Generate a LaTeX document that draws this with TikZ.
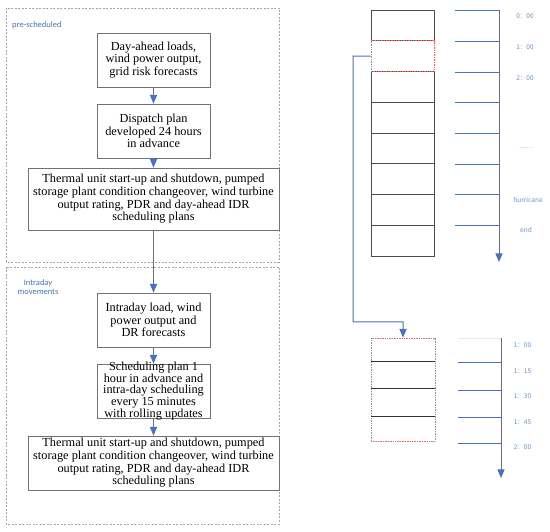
\documentclass[tikz,border=0pt]{standalone}
\usepackage{fontspec}
\setmainfont{Liberation Serif}
\newfontfamily\tagfont{Carlito}
\newfontfamily\cjk{Noto Sans CJK SC}
\usetikzlibrary{arrows}
\definecolor{planblue}{RGB}{68,114,196}
\definecolor{hotred}{RGB}{250,100,100}

\begin{document}
\begin{tikzpicture}[x=1pt,y=-1pt]
\tikzstyle{every node}=[inner sep=0pt]
\tikzstyle{planbox}=[draw=black!55, line width=0.8pt, minimum height=54pt, align=center, font=\fontsize{12.3}{12.7}\selectfont]
\tikzstyle{stagebox}=[draw=black!35, dash pattern=on 2pt off 1.5pt, line width=0.8pt]
\tikzstyle{flowarrow}=[draw=planblue, line width=1pt, -triangle 45]
\tikzstyle{tickline}=[draw=planblue, line width=0.9pt]
\tikzstyle{taglabel}=[text=planblue, font=\tagfont\fontsize{8.5}{8.5}\selectfont, align=center]
\tikzstyle{timelabel}=[text=planblue!80, font=\cjk\fontsize{6.5}{7}\selectfont]
\tikzstyle{slotbox}=[draw=black!70, line width=0.7pt, minimum width=63pt, minimum height=30.75pt]
\tikzstyle{hotslot}=[draw=hotred, fill=white, dash pattern=on 1pt off 0.7pt, line width=0.9pt]
\useasboundingbox (0,0) rectangle (550,532);

% the two stages
\draw[stagebox] (6,8) rectangle (279,262);
\draw[stagebox] (6,267) rectangle (279,524);
\node (pre) [taglabel, anchor=west] at (12,25) {pre-scheduled};
\node (intra) [taglabel] at (38,287) {Intraday\\movements};

% pre-scheduled
\node (load) [planbox, minimum width=113pt] at (153.5,60) {Day-ahead loads,\\wind power output,\\grid risk forecasts};
\node (plan) [planbox, minimum width=113pt] at (153.5,131) {Dispatch plan\\developed 24 hours\\in advance};
\node (units) [planbox, minimum width=251pt, minimum height=62pt] at (153.5,199) {Thermal unit start-up and shutdown, pumped\\storage plant condition changeover, wind turbine\\output rating, PDR and day-ahead IDR\\scheduling plans};

% intraday
\node (intraload) [planbox, minimum width=113pt] at (153.5,320) {Intraday load, wind\\power output and\\DR forecasts};
\node (sched) [planbox, minimum width=113pt] at (153.5,391) {};
\node (schedtext) [align=center, font=\fontsize{12.3}{11.8}\selectfont] at (sched) {Scheduling plan 1\\hour in advance and\\intra-day scheduling\\every 15 minutes\\with rolling updates};
\node (intraunits) [planbox, minimum width=251pt] at (153.5,463) {Thermal unit start-up and shutdown, pumped\\storage plant condition changeover, wind turbine\\output rating, PDR and day-ahead IDR\\scheduling plans};

\draw[flowarrow] (load) -- (plan);
\draw[flowarrow] (plan) -- (units);
\draw[flowarrow] (units) -- (intraload);
\draw[flowarrow] (intraload) -- (sched);
\draw[flowarrow] (sched) -- (intraunits);

% hourly slots
\foreach \i in {0,2,3,4,5,6,7}
  \node (slot\i) [slotbox] at (402.5,25.4+30.75*\i) {};
\node (slot1) [slotbox, hotslot] at (402.5,56.1) {};

\coordinate (day0) at (499,10);
\coordinate (dayend) at (499,262);
\draw[flowarrow] (day0) -- (dayend);
\foreach \y in {10,41,72,102,133,164,194,225}
  \draw[tickline] (455,\y) -- (499,\y);
\node (h0) [timelabel] at (525,16) {0：00};
\node (h1) [timelabel] at (525,47) {1：00};
\node (h2) [timelabel] at (525,78) {2：00};
\node (hdots) [timelabel] at (526,148) {……};
\node (hhur) [timelabel] at (528,200) {hurricane};
\node (hend) [timelabel] at (526,230) {end};

% quarter-hour slots
\node (batch) [hotslot, minimum width=64pt, minimum height=103pt] at (403,389.5) {};
\foreach \y in {362,389,417}
  \draw[black!80, line width=1pt] (371,\y) -- (435,\y);
\draw[flowarrow] (slot1.west) -- (353,56) -- (353,322) -| (batch.north);

\coordinate (q0) at (501,338);
\coordinate (qend) at (501,478);
\draw[flowarrow] (q0) -- (qend);
\draw[planblue!15, line width=0.9pt] (458,338) -- (501,338);
\foreach \y in {362,390,417,443}
  \draw[tickline] (458,\y) -- (501,\y);
\node (m0) [timelabel] at (522.5,345) {1：00};
\node (m15) [timelabel] at (522.5,371) {1：15};
\node (m30) [timelabel] at (522.5,396) {1：30};
\node (m45) [timelabel] at (522.5,422) {1：45};
\node (m60) [timelabel] at (522.5,447) {2：00};
\end{tikzpicture}
\end{document}
